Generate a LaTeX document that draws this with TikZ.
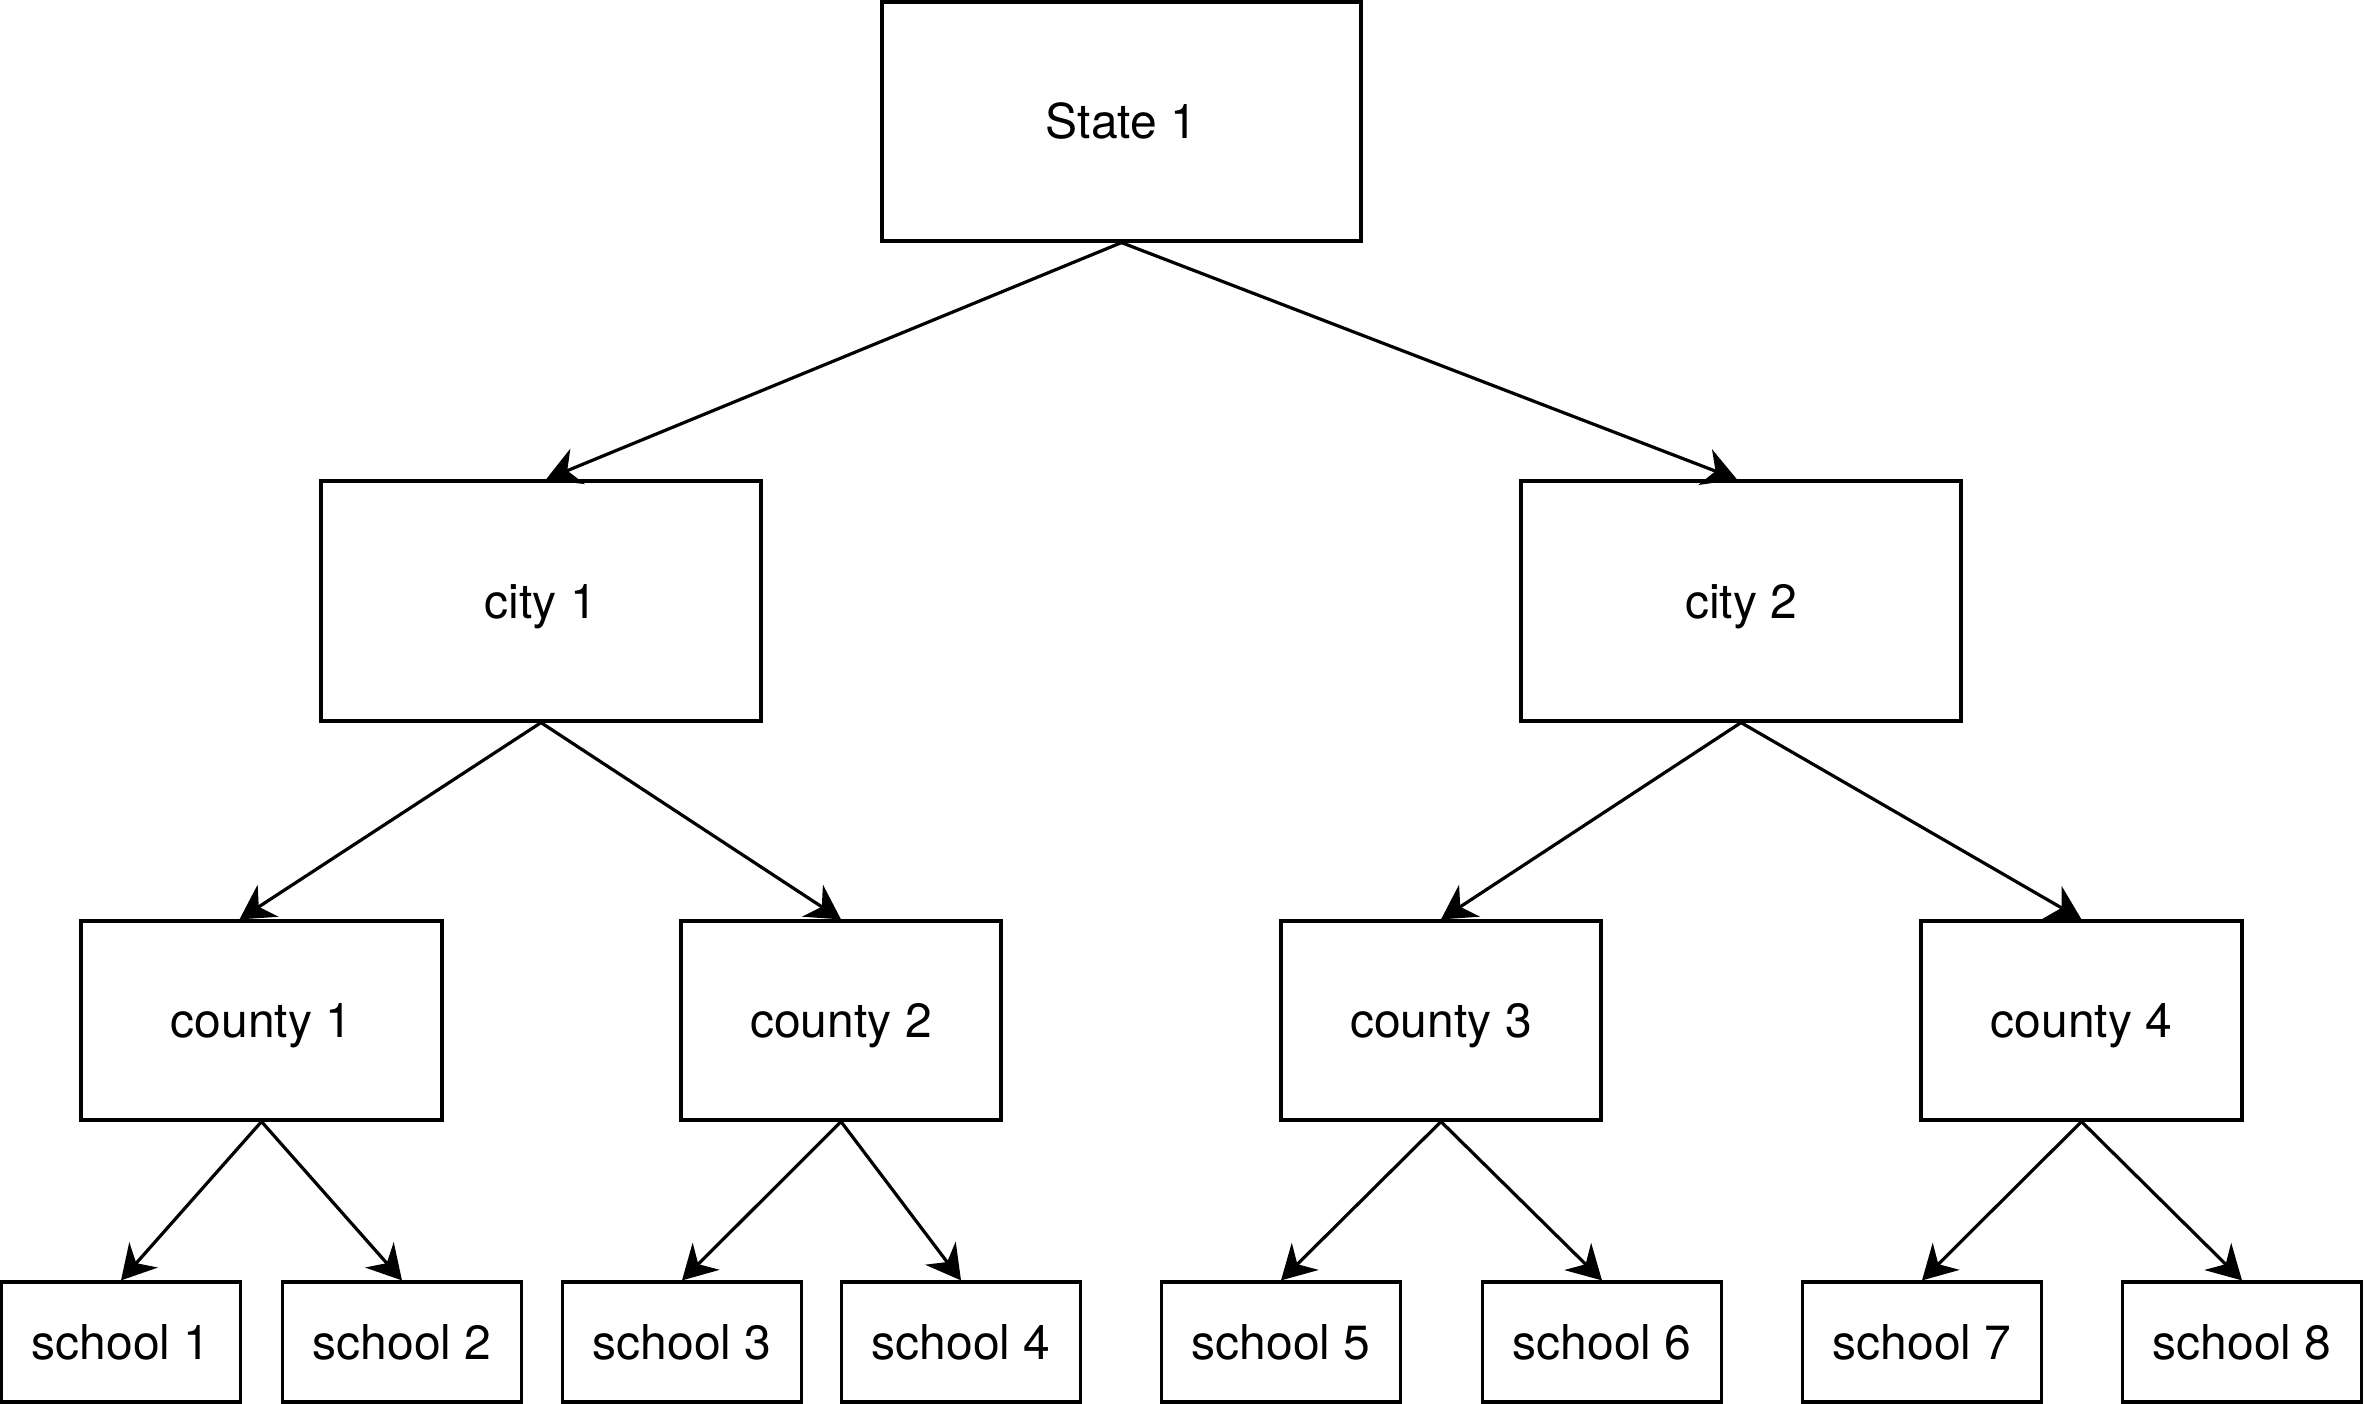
\documentclass[tikz,border=0pt]{standalone}
\usepackage{fontspec}
\setmainfont{TeX Gyre Heros}
\usetikzlibrary{arrows.meta}
\begin{document}
\begin{tikzpicture}[x=1pt,y=-1pt,
  box/.style={draw=black,line width=3.2pt,fill=white,inner sep=0pt,text height=34.5pt,text depth=0pt,font=\fontsize{48}{58}\selectfont},
  arr/.style={line width=3.2pt,-{Stealth[length=34pt,width=38pt,inset=11pt]}}]
\useasboundingbox (0,0) rectangle (2364,1404);
\node[box,minimum width=479pt,minimum height=239pt] (st) at (1121.5,121.5) {State 1};
\node[box,minimum width=440pt,minimum height=240pt] (c1) at (541,601) {city 1};
\node[box,minimum width=440pt,minimum height=240pt] (c2) at (1741,601) {city 2};
\node[box,minimum width=361pt,minimum height=199pt] (k1) at (261.5,1020.5) {county 1};
\node[box,minimum width=320pt,minimum height=199pt] (k2) at (841,1020.5) {county 2};
\node[box,minimum width=320pt,minimum height=199pt] (k3) at (1441,1020.5) {county 3};
\node[box,minimum width=321pt,minimum height=199pt] (k4) at (2081.5,1020.5) {county 4};
\node[box,minimum width=239pt,minimum height=120pt] (s1) at (121,1342) {school 1};
\node[box,minimum width=239pt,minimum height=120pt] (s2) at (402,1342) {school 2};
\node[box,minimum width=239pt,minimum height=120pt] (s3) at (682,1342) {school 3};
\node[box,minimum width=239pt,minimum height=120pt] (s4) at (961,1342) {school 4};
\node[box,minimum width=239pt,minimum height=120pt] (s5) at (1281,1342) {school 5};
\node[box,minimum width=239pt,minimum height=120pt] (s6) at (1602,1342) {school 6};
\node[box,minimum width=239pt,minimum height=120pt] (s7) at (1922,1342) {school 7};
\node[box,minimum width=239pt,minimum height=120pt] (s8) at (2242,1342) {school 8};
\draw[arr] (st.south) -- ([xshift=5pt]c1.north);
\draw[arr] (st.south) -- ([xshift=-4pt]c2.north);
\draw[arr] (c1.south) -- ([xshift=-22pt]k1.north);
\draw[arr] (c1.south) -- (k2.north);
\draw[arr] (c2.south) -- (k3.north);
\draw[arr] (c2.south) -- (k4.north);
\draw[arr] (k1.south) -- (s1.north);
\draw[arr] (k1.south) -- (s2.north);
\draw[arr] (k2.south) -- (s3.north);
\draw[arr] (k2.south) -- (s4.north);
\draw[arr] (k3.south) -- (s5.north);
\draw[arr] (k3.south) -- (s6.north);
\draw[arr] (k4.south) -- (s7.north);
\draw[arr] (k4.south) -- (s8.north);
\end{tikzpicture}
\end{document}
